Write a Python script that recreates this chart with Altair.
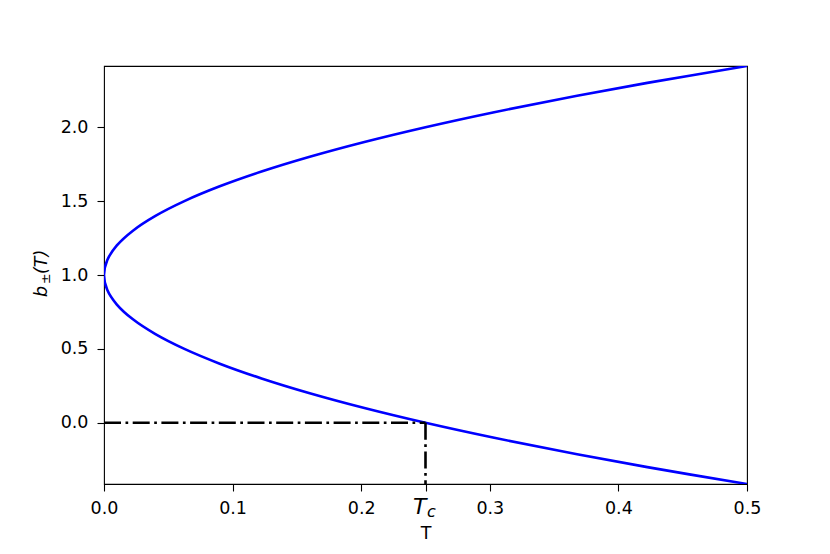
import altair as alt
import pandas as pd

# branch values, ordered along the curve (lower branch -> vertex -> upper branch)
b_vals = [-0.4142, -0.3, -0.2, -0.1, 0.0, 0.1, 0.2, 0.3, 0.4, 0.5, 0.6, 0.7, 0.8, 0.9, 1.0,
          1.1, 1.2, 1.3, 1.4, 1.5, 1.6, 1.7, 1.8, 1.9, 2.0, 2.1, 2.2, 2.3, 2.4142]
T_vals = [0.5, 0.4225, 0.36, 0.3025, 0.25, 0.2025, 0.16, 0.1225, 0.09, 0.0625, 0.04, 0.0225, 0.01, 0.0025, 0.0,
          0.0025, 0.01, 0.0225, 0.04, 0.0625, 0.09, 0.1225, 0.16, 0.2025, 0.25, 0.3025, 0.36, 0.4225, 0.5]

Tc = 0.25
x_ticks = [0.0, 0.1, 0.2, 0.25, 0.3, 0.4, 0.5]
y_ticks = [0.0, 0.5, 1.0, 1.5, 2.0]
x_min, x_max = 0.0, 0.5
y_min, y_max = -0.4142, 2.4142

FONT = "DejaVu Sans"
FS = 17.5

curve_df = pd.DataFrame({"T": T_vals, "b": b_vals, "k": list(range(len(b_vals)))})
h_df = pd.DataFrame({"T": [x_min], "T2": [Tc], "b": [0.0]})
v_df = pd.DataFrame({"T": [Tc], "b": [0.0], "b2": [y_min]})

xscale = alt.Scale(domain=[x_min, x_max], nice=False, zero=False)
yscale = alt.Scale(domain=[y_min, y_max], nice=False, zero=False)

xaxis = alt.Axis(
    values=x_ticks,
    labelExpr="datum.value == 0.25 ? '' : format(datum.value, '.1f')",
    grid=False, domain=False, tickColor="black", tickSize=7, tickWidth=1.1,
    labelFont=FONT, labelFontSize=FS, labelColor="black", labelPadding=8,
    labelFlush=False, labelOverlap=False,
    title="T", titleFont=FONT, titleFontSize=FS, titleFontWeight="normal",
    titleColor="black", titlePadding=8,
)
yaxis = alt.Axis(
    values=y_ticks, format=".1f",
    grid=False, domain=False, tickColor="black", tickSize=7, tickWidth=1.1,
    labelFont=FONT, labelFontSize=FS, labelColor="black", labelPadding=9,
    labelFlush=False, labelOverlap=False, title=None,
)

curve = alt.Chart(curve_df).mark_line(
    color="#0000ff", strokeWidth=2.6, interpolate="catmull-rom", clip=True
).encode(
    x=alt.X("T:Q", scale=xscale, axis=xaxis),
    y=alt.Y("b:Q", scale=yscale, axis=yaxis),
    order="k:Q",
)

dash = [17, 4.5, 2.7, 4.5]
hline = alt.Chart(h_df).mark_rule(color="black", strokeWidth=2.6, strokeDash=dash).encode(
    x="T:Q", x2="T2:Q", y="b:Q"
)
vline = alt.Chart(v_df).mark_rule(color="black", strokeWidth=2.6, strokeDash=dash).encode(
    x="T:Q", y="b:Q", y2="b2:Q"
)

# T_c tick label (italic T with subscript c)
tc_T = alt.Chart(pd.DataFrame({"T": [Tc]})).mark_text(
    text="T", font=FONT, fontSize=22, fontStyle="italic", align="right",
    baseline="alphabetic", color="black", dx=1
).encode(x="T:Q", y=alt.value(448))
tc_c = alt.Chart(pd.DataFrame({"T": [Tc]})).mark_text(
    text="c", font=FONT, fontSize=16, fontStyle="italic", align="left",
    baseline="alphabetic", color="black", dx=1.5
).encode(x="T:Q", y=alt.value(451))

# y title b_±(T)
yt_b = alt.Chart(pd.DataFrame({"a": [0]})).mark_text(
    text="b", font=FONT, fontSize=FS, fontStyle="italic", angle=270, align="left",
    baseline="alphabetic", color="black"
).encode(x=alt.value(-57), y=alt.value(231))
yt_pm = alt.Chart(pd.DataFrame({"a": [0]})).mark_text(
    text="±", font=FONT, fontSize=12.5, angle=270, align="left",
    baseline="alphabetic", color="black"
).encode(x=alt.value(-54), y=alt.value(218))
yt_T = alt.Chart(pd.DataFrame({"a": [0]})).mark_text(
    text="(T)", font=FONT, fontSize=FS, fontStyle="italic", angle=270, align="left",
    baseline="alphabetic", color="black"
).encode(x=alt.value(-57), y=alt.value(208))

chart = alt.layer(curve, hline, vline, tc_T, tc_c, yt_b, yt_pm, yt_T).properties(
    width=643, height=418,
    autosize=alt.AutoSizeParams(type="none"),
    padding={"left": 96, "top": 58, "right": 75, "bottom": 62},
    background="white",
).configure_view(stroke="black", strokeWidth=1.1)

chart.save("out.html", embed_options={"renderer": "svg", "actions": False})
